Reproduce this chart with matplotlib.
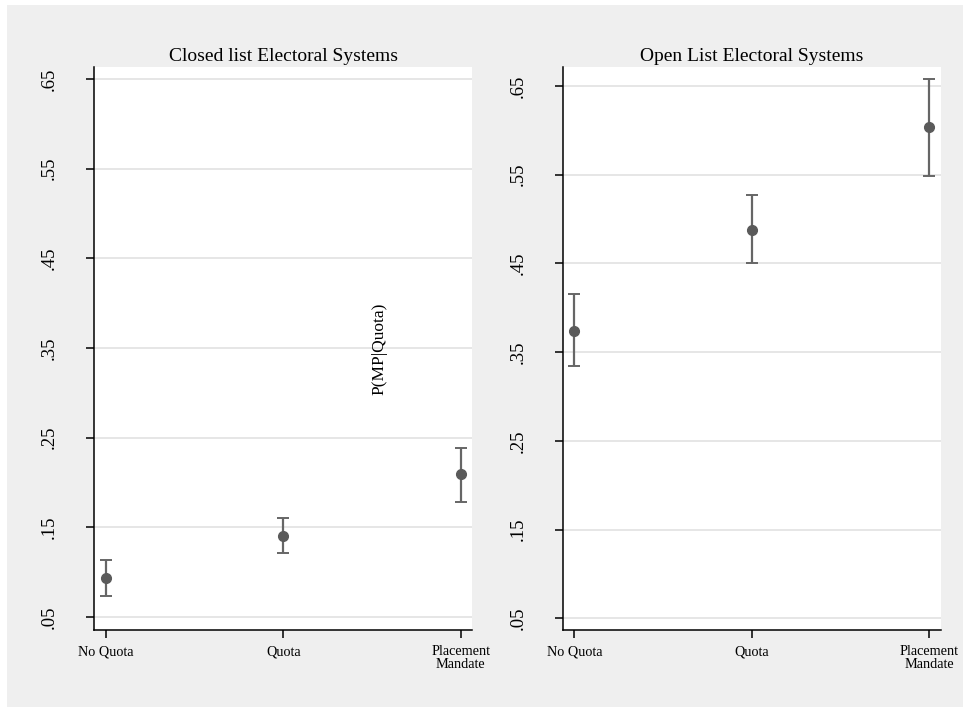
import matplotlib
matplotlib.use('Agg')
import matplotlib.pyplot as plt
from matplotlib.patches import Rectangle
plt.rc('font', family='Liberation Serif')

# data
categories = ['No Quota', 'Quota', 'Placement\nMandate']
yticks = [0.05, 0.15, 0.25, 0.35, 0.45, 0.55, 0.65]
ytick_labels = ['.05', '.15', '.25', '.35', '.45', '.55', '.65']

closed_est = [0.093, 0.140, 0.209]
closed_lo = [0.073, 0.121, 0.178]
closed_hi = [0.114, 0.160, 0.239]

open_est = [0.374, 0.488, 0.604]
open_lo = [0.334, 0.450, 0.548]
open_hi = [0.415, 0.527, 0.658]

fig = plt.figure(figsize=(9.63, 7.07), dpi=100, facecolor='white')
fig.patches.append(Rectangle((7 / 963, 0), 1, 1 - 5 / 707, transform=fig.transFigure,
                             facecolor='#efefef', edgecolor='none', zorder=-10))


def draw_panel(rect, title, est, lo, hi, ylim):
    ax = fig.add_axes(rect)
    ax.set_facecolor('white')
    x = list(range(len(categories)))
    yerr = [[e - l for e, l in zip(est, lo)], [h - e for e, h in zip(est, hi)]]
    ax.errorbar(x, est, yerr=yerr, fmt='none', ecolor='#666666', elinewidth=1.6,
                capsize=4.5, capthick=1.4, zorder=3)
    ax.plot(x, est, 'o', color='#5a5a5a', markersize=7, zorder=4)
    ax.set_xlim(-0.066, 2.066)
    ax.set_ylim(*ylim)
    ax.set_xticks(x)
    ax.set_xticklabels(categories, fontsize=10.3, linespacing=0.95)
    ax.set_yticks(yticks)
    ax.set_yticklabels(ytick_labels, fontsize=13.5, rotation=90, va='center')
    ax.tick_params(axis='x', length=6, width=1.1, pad=5)
    ax.tick_params(axis='y', length=6, width=1.1, pad=20)
    ax.grid(axis='y', color='#e4e4e4', linewidth=1.3)
    ax.set_axisbelow(True)
    for s in ['top', 'right']:
        ax.spines[s].set_visible(False)
    for s in ['left', 'bottom']:
        ax.spines[s].set_linewidth(1.1)
    ax.set_title(title, fontsize=14, pad=4)
    return ax


draw_panel([0.0979, 0.1089, 0.3927, 0.7963], 'Closed list Electoral Systems',
           closed_est, closed_lo, closed_hi, (0.0355, 0.6634))
draw_panel([0.5843, 0.1089, 0.3925, 0.7963], 'Open List Electoral Systems',
           open_est, open_lo, open_hi, (0.0368, 0.6714))

fig.text(379 / 963, 1 - 349 / 707, 'P(MP|Quota)', rotation=90, fontsize=12.5,
         ha='center', va='center')

plt.savefig('out.png', dpi=100, facecolor=fig.get_facecolor())
plt.close()
